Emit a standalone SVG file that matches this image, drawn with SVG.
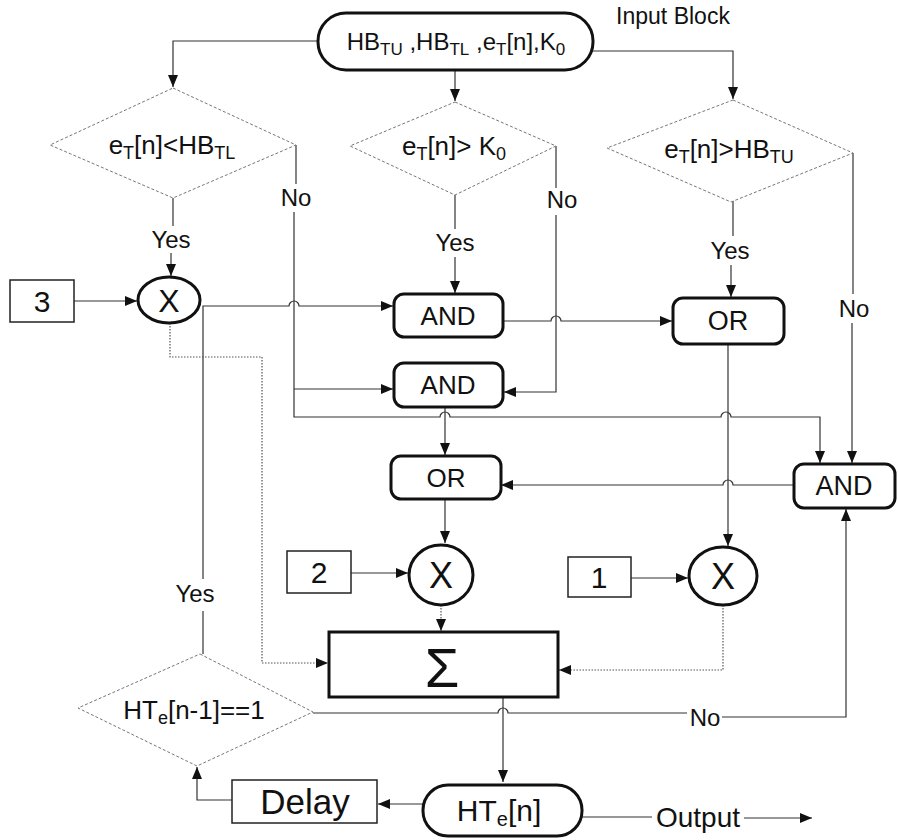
<svg xmlns="http://www.w3.org/2000/svg" width="898" height="840" viewBox="0 0 898 840">
<style>
.ln{fill:none;stroke:#333;stroke-width:1.2}
.dot{fill:none;stroke:#555;stroke-width:1.2;stroke-dasharray:1.5 1.5}
.dia{fill:#fff;stroke:#777;stroke-width:1;stroke-dasharray:3 2}
.thick{fill:#fff;stroke:#111;stroke-width:3}
.thin{fill:#fff;stroke:#222;stroke-width:1.5}
.t{font-family:"Liberation Sans",Arial,sans-serif;fill:#111;text-anchor:middle}
</style>
<defs>
<marker id="ah" viewBox="0 0 12 10" refX="12" refY="5" markerWidth="12" markerHeight="10" markerUnits="userSpaceOnUse" orient="auto"><path d="M0,0 L12,5 L0,10 z" fill="#111"/></marker>
</defs>
<rect width="898" height="840" fill="#fff"/>
<g id="connectors">
<path class="ln" d="M318,41 H173 V87" marker-end="url(#ah)"/>
<path class="ln" d="M455,70 V101" marker-end="url(#ah)"/>
<path class="ln" d="M593,51 H733 V99" marker-end="url(#ah)"/>
<path class="ln" d="M173,198 V226"/>
<path class="ln" d="M171,253 V276" marker-end="url(#ah)"/>
<path class="ln" d="M74,301 H137" marker-end="url(#ah)"/>
<path class="ln" d="M296,145 V184"/>
<path class="ln" d="M294,212 V417 H440 A5,5 0 0 1 450,417 H721 A5,5 0 0 1 731,417 H820 V463" marker-end="url(#ah)"/>
<path class="ln" d="M294,389 H393" marker-end="url(#ah)"/>
<path class="ln" d="M455,195 V229"/>
<path class="ln" d="M455,257 V293" marker-end="url(#ah)"/>
<path class="ln" d="M556,146 V188"/>
<path class="ln" d="M556,215 V392 H504" marker-end="url(#ah)"/>
<path class="ln" d="M733,200 V236"/>
<path class="ln" d="M731,265 V297" marker-end="url(#ah)"/>
<path class="ln" d="M853,153 V294"/>
<path class="ln" d="M852,323 V463" marker-end="url(#ah)"/>
<path class="ln" d="M203,654 V611"/>
<path class="ln" d="M203,579 V306 H289 A5,5 0 0 1 299,306 H393" marker-end="url(#ah)"/>
<path class="dot" d="M170,323 V357 H262 V663 H328" marker-end="url(#ah)"/>
<path class="ln" d="M503,321 H551 A5,5 0 0 1 561,321 H672" marker-end="url(#ah)"/>
<path class="ln" d="M445,407 V455" marker-end="url(#ah)"/>
<path class="ln" d="M728,344 V546" marker-end="url(#ah)"/>
<path class="ln" d="M794,485 H733 A5,5 0 0 0 723,485 H501" marker-end="url(#ah)"/>
<path class="ln" d="M445,499 V543" marker-end="url(#ah)"/>
<path class="ln" d="M351,573 H408" marker-end="url(#ah)"/>
<path class="ln" d="M631,578 H688" marker-end="url(#ah)"/>
<path class="dot" d="M441,605 V631" marker-end="url(#ah)"/>
<path class="dot" d="M723,605 V670 H559" marker-end="url(#ah)"/>
<path class="ln" d="M503,697 V782" marker-end="url(#ah)"/>
<path class="ln" d="M313,713 H498 A5,5 0 0 1 508,713 H687"/>
<path class="ln" d="M722,717 H846 V509" marker-end="url(#ah)"/>
<path class="ln" d="M423,804 H378" marker-end="url(#ah)"/>
<path class="ln" d="M232,800 H197 V767" marker-end="url(#ah)"/>
<path class="ln" d="M582,817 H652"/>
<path class="ln" d="M744,818 H812" marker-end="url(#ah)"/>
<g class="t" font-size="24">
<text x="171" y="248">Yes</text>
<text x="296" y="206">No</text>
<text x="455" y="251">Yes</text>
<text x="562" y="208">No</text>
<text x="730" y="259">Yes</text>
<text x="854" y="317">No</text>
<text x="195" y="602">Yes</text>
<text x="705" y="726">No</text>
<text x="698" y="827" font-size="28">Output</text>
</g>
</g>
<g id="input">
<rect class="thick" x="318" y="13" width="275" height="57" rx="28"/>
<text class="t" x="456" y="50" font-size="24">HB<tspan font-size="17" dy="5">TU</tspan><tspan dy="-5"> ,HB</tspan><tspan font-size="17" dy="5">TL</tspan><tspan dy="-5"> ,e</tspan><tspan font-size="17" dy="5">T</tspan><tspan dy="-5">[n],K</tspan><tspan font-size="17" dy="5">0</tspan></text>
<text class="t" x="673" y="24" font-size="23">Input Block</text>
</g>
<g id="d1">
<polygon class="dia" points="173,88 296,145 173,198 50,145"/>
<text class="t" x="172" y="154" font-size="26">e<tspan font-size="18" dy="5">T</tspan><tspan dy="-5">[n]&lt;HB</tspan><tspan font-size="18" dy="5">TL</tspan></text>
</g>
<g id="d2">
<polygon class="dia" points="455,102 556,146 455,195 350,146"/>
<text class="t" x="454" y="155" font-size="26">e<tspan font-size="18" dy="5">T</tspan><tspan dy="-5">[n]&gt; K</tspan><tspan font-size="18" dy="5">0</tspan></text>
</g>
<g id="d3">
<polygon class="dia" points="733,100 853,153 731,202 607,148"/>
<text class="t" x="729" y="158" font-size="26">e<tspan font-size="18" dy="5">T</tspan><tspan dy="-5">[n]&gt;HB</tspan><tspan font-size="18" dy="5">TU</tspan></text>
</g>
<g id="box3">
<rect class="thin" x="10" y="280" width="64" height="42"/>
<text class="t" x="42" y="312" font-size="30">3</text>
</g>
<g id="x1">
<ellipse class="thick" cx="169" cy="300" rx="31" ry="23"/>
<text class="t" x="169" y="312" font-size="32">X</text>
</g>
<g id="and1">
<rect class="thick" x="394" y="294" width="109" height="43" rx="10"/>
<text class="t" x="448" y="325" font-size="26">AND</text>
</g>
<g id="and2">
<rect class="thick" x="394" y="363" width="109" height="44" rx="10"/>
<text class="t" x="448" y="394" font-size="26">AND</text>
</g>
<g id="or1">
<rect class="thick" x="673" y="298" width="111" height="46" rx="10"/>
<text class="t" x="728" y="330" font-size="27">OR</text>
</g>
<g id="or2">
<rect class="thick" x="391" y="456" width="110" height="43" rx="10"/>
<text class="t" x="446" y="487" font-size="26">OR</text>
</g>
<g id="and3">
<rect class="thick" x="794" y="464" width="101" height="44" rx="10"/>
<text class="t" x="844" y="495" font-size="27">AND</text>
</g>
<g id="box2">
<rect class="thin" x="287" y="551" width="64" height="42"/>
<text class="t" x="319" y="583" font-size="30">2</text>
</g>
<g id="x2">
<ellipse class="thick" cx="441" cy="575" rx="32" ry="30"/>
<text class="t" x="441" y="588" font-size="36">X</text>
</g>
<g id="box1">
<rect class="thin" x="568" y="557" width="63" height="40"/>
<text class="t" x="599" y="588" font-size="30">1</text>
</g>
<g id="x3">
<ellipse class="thick" cx="723" cy="576" rx="34" ry="29"/>
<text class="t" x="723" y="589" font-size="36">X</text>
</g>
<g id="sum">
<rect class="thick" x="329" y="632" width="229" height="65"/>
<text class="t" x="442" y="687" font-size="56">Σ</text>
</g>
<g id="d4">
<polygon class="dia" points="200,654 313,712 197,766 78,708"/>
<text class="t" x="194" y="719" font-size="26">HT<tspan font-size="18" dy="5">e</tspan><tspan dy="-5">[n-1]==1</tspan></text>
</g>
<g id="delay">
<rect class="thin" x="232" y="780" width="145" height="43"/>
<text class="t" x="305" y="814" font-size="35">Delay</text>
</g>
<g id="hte">
<rect class="thick" x="423" y="785" width="159" height="51" rx="25"/>
<text class="t" x="499" y="821" font-size="30">HT<tspan font-size="20" dy="5">e</tspan><tspan dy="-5">[n]</tspan></text>
</g>
</svg>
